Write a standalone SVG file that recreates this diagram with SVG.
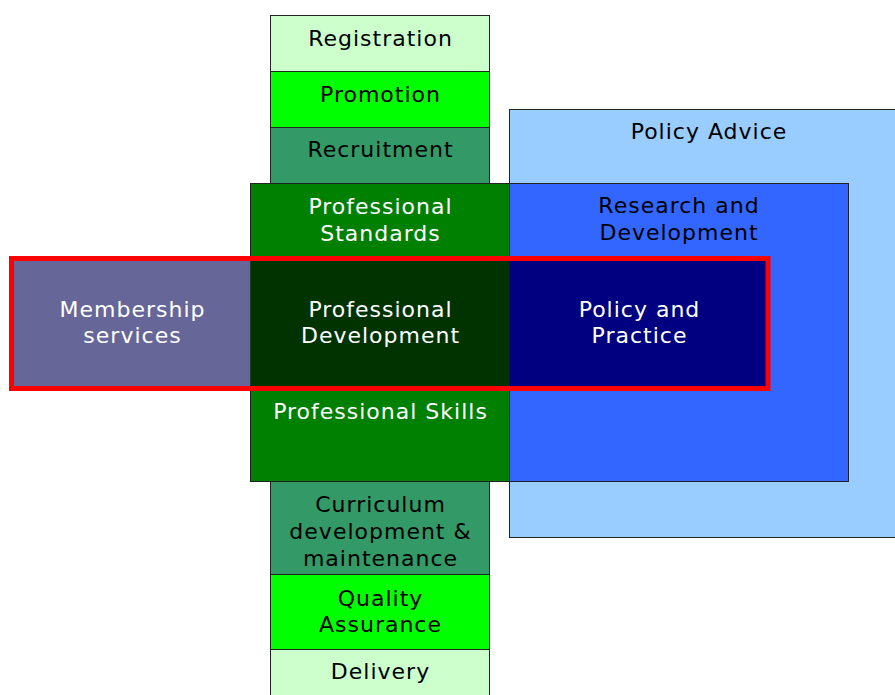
<svg xmlns="http://www.w3.org/2000/svg" width="895" height="695" viewBox="0 0 895 695">
<style>
  .box { stroke: #222; stroke-width: 1; }
  text { font-family: "DejaVu Sans", Verdana, sans-serif; font-size: 22px; letter-spacing: 1px; text-anchor: middle; }
  .dk { fill: #000; }
  .lt { fill: #fff; }
</style>
<rect width="895" height="695" fill="#fff"/>
<g id="policy-advice">
  <rect class="box" x="509.5" y="109.5" width="400" height="428" fill="#99CCFF"/>
  <text class="dk" x="709" y="139">Policy Advice</text>
</g>
<g id="research-development">
  <rect class="box" x="509.5" y="183.5" width="339" height="298" fill="#3366FF"/>
  <text class="dk" x="679" y="213">Research and</text>
  <text class="dk" x="679" y="240">Development</text>
</g>
<g id="registration">
  <rect class="box" x="270.5" y="15.5" width="219" height="56" fill="#CCFFCC"/>
  <text class="dk" x="380.5" y="46">Registration</text>
</g>
<g id="promotion">
  <rect class="box" x="270.5" y="71.5" width="219" height="56" fill="#00FF00"/>
  <text class="dk" x="380.5" y="102">Promotion</text>
</g>
<g id="recruitment">
  <rect class="box" x="270.5" y="127.5" width="219" height="56" fill="#339966"/>
  <text class="dk" x="380.5" y="157">Recruitment</text>
</g>
<g id="curriculum">
  <rect class="box" x="270.5" y="481.5" width="219" height="93" fill="#339966"/>
  <text class="dk" x="380.5" y="512">Curriculum</text>
  <text class="dk" x="380.5" y="539">development &amp;</text>
  <text class="dk" x="380.5" y="566">maintenance</text>
</g>
<g id="quality-assurance">
  <rect class="box" x="270.5" y="574.5" width="219" height="75" fill="#00FF00"/>
  <text class="dk" x="380.5" y="606">Quality</text>
  <text class="dk" x="380.5" y="632">Assurance</text>
</g>
<g id="delivery">
  <rect class="box" x="270.5" y="649.5" width="219" height="60" fill="#CCFFCC"/>
  <text class="dk" x="380.5" y="679">Delivery</text>
</g>
<g id="professional">
  <rect class="box" x="250.5" y="183.5" width="259" height="298" fill="#008000"/>
  <text class="lt" x="380.5" y="214">Professional</text>
  <text class="lt" x="380.5" y="241">Standards</text>
  <text class="lt" x="380.5" y="419">Professional Skills</text>
</g>
<g id="membership-services">
  <rect x="11" y="258" width="239.5" height="130" fill="#666699"/>
  <text class="lt" x="132.5" y="317">Membership</text>
  <text class="lt" x="132.5" y="343">services</text>
</g>
<g id="professional-development">
  <rect x="250.5" y="258" width="259" height="130" fill="#003300"/>
  <text class="lt" x="380.5" y="317">Professional</text>
  <text class="lt" x="380.5" y="343">Development</text>
</g>
<g id="policy-practice">
  <rect x="509.5" y="258" width="258.5" height="130" fill="#000080"/>
  <text class="lt" x="639.5" y="317">Policy and</text>
  <text class="lt" x="639.5" y="343">Practice</text>
</g>
<g id="core-frame">
  <rect x="11.5" y="258.5" width="756.5" height="130" fill="none" stroke="#FF0000" stroke-width="5"/>
</g>
<g id="connectors"></g>
</svg>
